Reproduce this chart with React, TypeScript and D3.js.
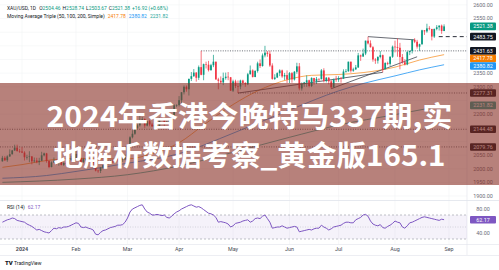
import React from "react";
import * as d3 from "d3";

const W = 499;
const H = 270;

// Trading sessions shown on the daily chart
const tradingMonths: string[] = ["2023-12", "2024-01", "2024-02", "2024-03", "2024-04", "2024-05", "2024-06", "2024-07", "2024-08"];
const tradingDays: number[][] = [
  [19, 20, 21, 22, 26, 27, 28, 29],
  [2, 3, 4, 5, 8, 9, 10, 11, 12, 15, 16, 17, 18, 19, 22, 23, 24, 25, 26, 29, 30, 31],
  [1, 2, 5, 6, 7, 8, 9, 12, 13, 14, 15, 16, 19, 20, 21, 22, 23, 26, 27, 28, 29],
  [1, 4, 5, 6, 7, 8, 11, 12, 13, 14, 15, 18, 19, 20, 21, 22, 25, 26, 27, 28, 29],
  [1, 2, 3, 4, 5, 8, 9, 10, 11, 12, 15, 16, 17, 18, 19, 22, 23, 24, 25, 26, 29, 30],
  [1, 2, 3, 6, 7, 8, 9, 10, 13, 14, 15, 16, 17, 20, 21, 22, 23, 24, 27, 28, 29, 30, 31],
  [3, 4, 5, 6, 7, 10, 11, 12, 13, 14, 17, 18, 19, 20, 21, 24, 25, 26, 27, 28],
  [1, 2, 3, 4, 5, 8, 9, 10, 11, 12, 15, 16, 17, 18, 19, 22, 23, 24, 25, 26, 29, 30, 31],
  [1, 2, 5, 6, 7, 8, 9, 12, 13, 14, 15, 16, 19, 20, 21, 22, 23, 26, 27, 28, 29],
];
// Upcoming sessions on the time scale (no bars yet)
const futureDates: string[] = ["2024-08-30", "2024-09-02"];

// XAU/USD daily candles: open, high, low, close
const candles: [number, number, number, number][] = [
  [2027, 2047, 2026, 2040], [2040, 2046, 2028, 2031], [2031, 2049, 2025, 2045], [2045, 2071, 2043, 2053],
  [2053, 2069, 2052, 2067], [2067, 2088, 2065, 2077], [2077, 2088, 2062, 2065], [2065, 2073, 2058, 2063],
  [2063, 2079, 2057, 2059], [2059, 2064, 2030, 2042], [2042, 2051, 2033, 2043], [2043, 2064, 2024, 2045],
  [2045, 2046, 2016, 2027], [2027, 2041, 2022, 2030], [2030, 2040, 2020, 2024], [2024, 2040, 2013, 2029],
  [2029, 2062, 2028, 2049], [2049, 2059, 2045, 2056], [2056, 2058, 2022, 2028], [2028, 2031, 2002, 2006],
  [2006, 2027, 2005, 2023], [2023, 2041, 2021, 2029], [2029, 2034, 2015, 2022], [2022, 2033, 2011, 2029],
  [2029, 2037, 2012, 2014], [2014, 2024, 2010, 2021], [2021, 2025, 2011, 2018], [2018, 2036, 2016, 2033],
  [2033, 2047, 2029, 2037], [2037, 2055, 2030, 2039],
  [2039, 2065, 2035, 2054], [2054, 2066, 2034, 2039], [2039, 2041, 2014, 2025], [2025, 2040, 2021, 2035],
  [2035, 2039, 2029, 2035.5], [2035, 2042, 2024, 2034], [2034, 2038, 2020, 2024], [2024, 2027, 2011, 2020],
  [2020, 2031, 1990, 1993], [1993, 1997, 1985, 1992], [1992, 2006, 1984, 2004], [2004, 2015, 1998, 2013],
  [2013, 2022, 2011, 2018], [2018, 2032, 2015, 2024], [2024, 2031, 2020, 2026], [2026, 2034, 2020, 2024],
  [2024, 2041, 2023, 2036], [2036, 2040, 2026, 2031], [2031, 2040, 2026, 2033], [2033, 2043, 2025, 2034],
  [2034, 2052, 2031, 2044],
  [2044, 2088, 2039, 2083], [2083, 2119, 2077, 2115], [2115, 2141, 2111, 2128], [2128, 2152, 2124, 2148],
  [2148, 2165, 2146, 2159], [2159, 2195, 2154, 2179], [2179, 2189, 2176, 2182], [2182, 2184, 2150, 2158],
  [2158, 2175, 2155, 2174], [2174, 2179, 2155, 2162], [2162, 2168, 2153, 2155], [2155, 2165, 2146, 2160],
  [2160, 2163, 2146, 2157], [2157, 2187, 2149, 2186], [2186, 2222, 2180, 2181], [2181, 2183, 2155, 2165],
  [2165, 2176, 2164, 2172], [2172, 2182, 2168, 2178], [2178, 2195, 2175, 2194], [2194, 2236, 2191, 2232],
  [2232, 2236, 2225, 2233],
  [2233, 2266, 2228, 2251], [2251, 2280, 2240, 2280], [2280, 2305, 2272, 2300], [2300, 2305, 2282, 2291],
  [2291, 2330, 2268, 2329], [2329, 2354, 2321, 2339], [2339, 2365, 2336, 2352], [2352, 2354, 2319, 2333],
  [2333, 2378, 2325, 2372], [2372, 2431.63, 2342, 2344], [2344, 2385, 2324, 2383], [2383, 2392, 2367, 2381],
  [2381, 2395, 2356, 2361], [2361, 2384, 2359, 2379], [2379, 2417, 2372, 2392], [2392, 2392, 2326, 2327],
  [2327, 2333, 2291, 2322], [2322, 2338, 2311, 2316], [2316, 2352, 2306, 2332], [2332, 2352, 2326, 2337],
  [2337, 2354, 2324, 2335], [2335, 2336, 2285, 2286],
  [2286, 2326, 2281, 2320], [2320, 2326, 2295, 2303], [2303, 2323, 2277.31, 2301], [2301, 2326, 2291, 2323],
  [2323, 2326, 2306, 2314], [2314, 2317, 2300, 2309], [2309, 2351, 2306, 2346], [2346, 2378, 2345, 2360],
  [2360, 2364, 2334, 2336], [2336, 2361, 2335, 2358], [2358, 2392, 2352, 2386], [2386, 2400, 2369, 2376],
  [2376, 2422, 2374, 2415], [2415, 2450, 2408, 2425], [2425, 2431, 2410, 2421], [2421, 2432, 2373, 2378],
  [2378, 2386, 2326, 2329], [2329, 2346, 2325, 2334], [2334, 2353, 2332, 2350], [2350, 2364, 2339, 2360],
  [2360, 2363, 2333, 2338], [2338, 2351, 2325, 2343], [2343, 2360, 2314, 2327],
  [2327, 2354, 2314, 2350], [2350, 2354, 2315, 2327], [2327, 2358, 2323, 2355], [2355, 2388, 2348, 2375],
  [2375, 2387, 2287, 2294], [2294, 2316, 2286, 2310], [2310, 2318, 2300, 2316], [2316, 2342, 2300, 2324],
  [2324, 2326, 2298, 2303], [2303, 2335, 2299, 2332], [2332, 2333, 2308, 2319], [2319, 2336, 2310, 2329],
  [2329, 2331, 2320, 2328], [2328, 2365, 2327, 2360], [2360, 2368, 2316, 2322], [2322, 2336, 2316, 2333],
  [2333, 2336, 2309, 2320], [2320, 2325, 2293, 2298], [2298, 2330, 2298, 2327], [2327, 2340, 2318, 2326],
  [2326, 2339, 2318, 2331], [2331, 2336, 2315, 2330], [2330, 2364, 2329, 2356], [2356, 2365, 2352, 2357],
  [2357, 2392, 2355, 2392], [2392, 2392, 2352, 2359], [2359, 2370, 2355, 2364], [2364, 2380, 2362, 2371],
  [2371, 2424, 2369, 2415], [2415, 2418, 2395, 2411], [2411, 2440, 2409, 2422], [2422, 2469, 2416, 2469],
  [2469, 2483.75, 2455, 2459], [2459, 2470, 2444, 2445], [2445, 2449, 2392, 2400], [2400, 2405, 2384, 2396],
  [2396, 2412, 2385, 2409], [2409, 2431, 2404, 2416], [2416, 2418, 2353, 2364], [2364, 2390, 2364, 2387],
  [2387, 2392, 2379, 2384], [2384, 2412, 2377, 2410], [2410, 2451, 2406, 2447],
  [2447, 2469, 2426, 2446], [2446, 2477, 2410, 2443], [2443, 2461, 2364, 2409], [2409, 2420, 2385, 2390],
  [2390, 2401, 2378, 2382], [2382, 2432, 2379, 2427], [2427, 2433, 2416, 2431], [2431, 2474, 2422, 2472],
  [2472, 2478, 2460, 2465], [2465, 2472, 2440, 2447], [2447, 2458, 2431, 2456], [2456, 2509, 2454, 2507],
  [2507, 2507, 2490, 2503], [2503, 2531, 2498, 2514], [2514, 2522, 2507, 2512], [2512, 2512, 2470, 2484],
  [2484, 2513, 2479, 2512], [2512, 2526, 2507, 2518], [2518, 2525, 2506, 2524], [2524, 2528, 2494, 2504.46],
  [2504.46, 2528.74, 2503.67, 2521.38],
];

// RSI (14) per session
const rsiValues: number[] = [
  58, 60, 62, 63, 65, 64, 61, 60, 59, 58,
  55, 53, 51, 48, 45, 46, 44, 42, 41, 40,
  44, 48, 47, 49, 48, 50, 50, 51, 53, 55,
  57, 56, 50, 49, 50, 48, 47, 45, 38, 37,
  41, 44, 45, 47, 49, 50, 51, 53, 53, 54,
  58, 65, 75, 80, 82, 84, 86, 87, 80, 75,
  73, 70, 70, 71, 70, 69, 70, 66, 65, 68,
  72, 75, 77, 80, 82, 84, 86, 87, 85, 83,
  84, 82, 79, 76, 73, 72, 70, 66, 58, 59,
  58, 57, 55, 50, 52, 56, 57, 58, 60, 61,
  62, 58, 60, 64, 65, 64, 68, 70, 64, 58,
  48, 49, 50, 50, 52, 50, 48, 49, 50, 51,
  50, 42, 43, 44, 45, 46, 45, 47, 48, 48,
  53, 50, 48, 45, 47, 50, 51, 52, 53, 56,
  58, 58, 57, 57, 62, 64, 66, 70, 71, 68,
  60, 55, 53, 52, 54, 49, 48, 51, 53, 56,
  60, 58, 57, 50, 48, 52, 57, 58, 60, 62,
  64, 66, 67, 66, 65, 64, 63, 62, 61, 63, 62.17,
];

// Simple moving averages (50, 100, 200)
const ma50: [string, number][] = [
  ["2023-12-19", 2005], ["2024-01-02", 2015], ["2024-01-16", 2030], ["2024-02-01", 2038],
  ["2024-02-15", 2036], ["2024-03-01", 2036], ["2024-03-15", 2055], ["2024-04-01", 2095],
  ["2024-04-15", 2160], ["2024-05-01", 2235], ["2024-05-15", 2285], ["2024-06-03", 2328],
  ["2024-06-14", 2342], ["2024-07-01", 2345], ["2024-07-15", 2352], ["2024-08-01", 2372],
  ["2024-08-15", 2398], ["2024-08-29", 2417.78],
];
const ma100: [string, number][] = [
  ["2023-12-19", 1965], ["2024-01-16", 1975], ["2024-02-01", 1990], ["2024-03-01", 2020],
  ["2024-04-01", 2055], ["2024-05-01", 2130], ["2024-06-03", 2215], ["2024-07-01", 2285],
  ["2024-07-15", 2312], ["2024-08-01", 2340], ["2024-08-15", 2362], ["2024-08-29", 2380.82],
];
const ma200: [string, number][] = [
  ["2023-12-19", 1950], ["2024-02-01", 1962], ["2024-03-01", 1978], ["2024-04-01", 2010],
  ["2024-05-01", 2060], ["2024-06-03", 2115], ["2024-07-01", 2160], ["2024-08-01", 2198],
  ["2024-08-29", 2231.82],
];

// Drawn trend lines: [start date, price] -> [end date, price]
const trendLines: [[string, number], [string, number]][] = [
  [["2024-07-17", 2483.75], ["2024-08-13", 2472]],
  [["2024-06-26", 2293], ["2024-08-14", 2410]],
  [["2024-05-03", 2277], ["2024-07-25", 2353]],
];

// Horizontal price levels and where they begin
const levelValues: number[] = [2431.63, 2277.31, 2144.48, 2079.76];
const levelStarts: (string | null)[] = ["2024-04-12", "2024-05-03", null, null];
const dashedLevel = 2483.75;

// Month labels on the time scale
const monthTickDates: string[] = ["2024-01-02", "2024-02-01", "2024-03-01", "2024-04-01", "2024-05-01", "2024-06-03", "2024-07-01", "2024-08-01", "2024-09-02"];
const monthTickLabels: string[] = ["2024", "Feb", "Mar", "Apr", "May", "Jun", "Jul", "Aug", "Sep"];

const rsiAxisTicks: number[] = [80, 40];

const bannerLines: string[] = ["2024年香港今晚特马337期,实", "地解析数据考察_黄金版165.1"];

const UP = "#089981";
const DOWN = "#f23645";
const FONT = "Roboto, 'Noto Sans', sans-serif";

const dates: string[] = tradingMonths.flatMap((m, k) =>
  tradingDays[k].map((d) => `${m}-${String(d).padStart(2, "0")}`)
);
const allDates = dates.concat(futureDates);

export default function App() {
  const bar = (d: string) => allDates.indexOf(d);
  const x = d3.scaleLinear().domain([0, 182]).range([2.4, 449]);
  const y = d3.scaleLinear().domain([1900, 2600]).range([196, 4.9]);
  const yR = d3.scaleLinear().domain([30, 70]).range([239, 215]);

  const plotRight = 467;
  const priceTicks = d3.range(1900, 2601, 50);

  const maLine = d3
    .line<[string, number]>()
    .x((p) => x(bar(p[0])))
    .y((p) => y(p[1]))
    .curve(d3.curveMonotoneX);

  const rsiLine = d3
    .line<number>()
    .x((_, i) => x(i))
    .y((v) => yR(v));

  const last = candles[candles.length - 1];
  const prevClose = candles[candles.length - 2][3];
  const chg = last[3] - prevClose;
  const pct = (chg / prevClose) * 100;

  // Price tags on the right scale, stacked so they never overlap
  const tagValues = [last[3], dashedLevel, levelValues[0], ma50[ma50.length - 1][1], ma100[ma100.length - 1][1], levelValues[1], ma200[ma200.length - 1][1], levelValues[2], levelValues[3]];
  const tagColors = [UP, "#131722", "#131722", "#f57c00", "#2196f3", "#131722", "#26a69a", "#131722", "#131722"];
  const tags = tagValues
    .map((v, i) => ({ v, c: tagColors[i], y: y(v) }))
    .sort((a, b) => a.y - b.y);
  for (let i = 1; i < tags.length; i++) {
    if (tags[i].y < tags[i - 1].y + 7.6) tags[i].y = tags[i - 1].y + 7.6;
  }
  // scale labels hidden where a tag sits over them
  const visibleTicks = priceTicks.filter((t) => tags.every((g) => Math.abs(g.y - y(t)) > 6));

  const bw = 1.7;
  const lastRsi = rsiValues[rsiValues.length - 1];
  const rsiTicksShown = rsiAxisTicks.filter((t) => Math.abs(yR(t) - yR(lastRsi)) > 6);

  return (
    <svg
      width={W}
      height={H}
      style={{ position: "absolute", left: 0, top: 0, background: "#fff" }}
      fontFamily={FONT}
    >
      <rect x={0} y={0} width={W} height={H} fill="#fff" />
      <defs>
        <clipPath id="pricePane">
          <rect x={0} y={0} width={plotRight} height={200} />
        </clipPath>
        <clipPath id="rsiPane">
          <rect x={0} y={201} width={plotRight} height={43} />
        </clipPath>
      </defs>

      {/* grid */}
      {priceTicks.map((t) => (
        <line key={`g${t}`} x1={0} x2={plotRight} y1={y(t)} y2={y(t)} stroke="#f2f3f5" strokeWidth={0.6} />
      ))}
      {monthTickDates.map((d) => (
        <line key={`v${d}`} x1={x(bar(d))} x2={x(bar(d))} y1={0} y2={244} stroke="#f2f3f5" strokeWidth={0.6} />
      ))}
      <line x1={plotRight} x2={plotRight} y1={0} y2={255} stroke="#e0e3eb" strokeWidth={0.6} />
      <line x1={0} x2={W} y1={200.5} y2={200.5} stroke="#e0e3eb" strokeWidth={0.8} />
      <line x1={0} x2={W} y1={244.5} y2={244.5} stroke="#e0e3eb" strokeWidth={0.6} />
      <line x1={0} x2={W} y1={255.5} y2={255.5} stroke="#e0e3eb" strokeWidth={0.6} />

      <g clipPath="url(#pricePane)">
        {/* moving averages */}
        <path d={maLine(ma200) || ""} fill="none" stroke="#26a69a" strokeWidth={0.8} />
        <path d={maLine(ma100) || ""} fill="none" stroke="#2196f3" strokeWidth={0.8} />
        <path d={maLine(ma50) || ""} fill="none" stroke="#f57c00" strokeWidth={0.8} opacity={0.8} />

        {/* horizontal levels */}
        {levelValues.map((v, i) => (
          <line
            key={`lv${v}`}
            x1={levelStarts[i] ? x(bar(levelStarts[i] as string)) : 0}
            x2={plotRight}
            y1={y(v)}
            y2={y(v)}
            stroke="#2a2e39"
            strokeWidth={0.7}
            strokeDasharray="1 1.4"
          />
        ))}
        <line
          x1={x(bar("2024-08-26")) + 2}
          x2={plotRight}
          y1={y(dashedLevel)}
          y2={y(dashedLevel)}
          stroke="#2a2e39"
          strokeWidth={1}
          strokeDasharray="4 3"
        />

        {/* trend lines */}
        {trendLines.map((tl, i) => (
          <line
            key={`tl${i}`}
            x1={x(bar(tl[0][0]))}
            y1={y(tl[0][1])}
            x2={x(bar(tl[1][0]))}
            y2={y(tl[1][1])}
            stroke="#434651"
            strokeWidth={0.8}
          />
        ))}

        {/* candles */}
        {candles.map(([o, h, l, c], i) => {
          const col = c >= o ? UP : DOWN;
          const cx = x(i);
          const top = y(Math.max(o, c));
          const bot = y(Math.min(o, c));
          return (
            <g key={`c${i}`}>
              <line x1={cx} x2={cx} y1={y(h)} y2={y(l)} stroke={col} strokeWidth={0.7} />
              <rect x={cx - bw / 2} y={top} width={bw} height={Math.max(0.6, bot - top)} fill={col} />
            </g>
          );
        })}
      </g>

      {/* RSI pane */}
      <rect x={0} y={yR(70)} width={plotRight} height={yR(30) - yR(70)} fill="#7e57c2" opacity={0.08} />
      {[70, 30].map((v) => (
        <line key={`rb${v}`} x1={0} x2={plotRight} y1={yR(v)} y2={yR(v)} stroke="#9598a1" strokeWidth={0.6} strokeDasharray="2 2" />
      ))}
      <line x1={0} x2={plotRight} y1={yR(50)} y2={yR(50)} stroke="#b2b5be" strokeWidth={0.5} strokeDasharray="1 1.5" />
      <g clipPath="url(#rsiPane)">
        <path d={rsiLine(rsiValues) || ""} fill="none" stroke="#7e57c2" strokeWidth={1} />
      </g>

      {/* price scale */}
      {visibleTicks.map((t) => (
        <text key={`pt${t}`} x={483} y={y(t)} dy="0.35em" fontSize={5.4} fill="#6a6d78" textAnchor="middle">
          {t.toFixed(2)}
        </text>
      ))}
      {tags.map((t) => (
        <g key={`tag${t.v}`}>
          <rect x={470} y={t.y - 3.8} width={26} height={7.6} rx={1} fill={t.c} />
          <text x={483} y={t.y} dy="0.35em" fontSize={5.4} fill="#fff" textAnchor="middle">
            {t.v.toFixed(2)}
          </text>
        </g>
      ))}

      {/* RSI scale */}
      {rsiTicksShown.map((t) => (
        <text key={`rt${t}`} x={483} y={yR(t)} dy="0.35em" fontSize={5.4} fill="#6a6d78" textAnchor="middle">
          {t.toFixed(2)}
        </text>
      ))}
      <rect x={470} y={yR(lastRsi) - 3.8} width={26} height={7.6} rx={1} fill="#7e57c2" />
      <text x={483} y={yR(lastRsi)} dy="0.35em" fontSize={5.4} fill="#fff" textAnchor="middle">
        {lastRsi.toFixed(2)}
      </text>

      {/* time scale */}
      {monthTickDates.map((d, i) => (
        <text
          key={`mt${d}`}
          x={x(bar(d))}
          y={249.5}
          dy="0.35em"
          fontSize={5.4}
          fill="#4a4d57"
          fontWeight={i === 0 ? 700 : 400}
          textAnchor="middle"
        >
          {monthTickLabels[i]}
        </text>
      ))}

      {/* legends */}
      <text x={7} y={9.5} fontSize={5} fill="#131722" textLength={161} lengthAdjust="spacingAndGlyphs">
        <tspan>XAU/USD, 1D </tspan>
        <tspan dx={2}>O</tspan><tspan fill={UP}>{last[0].toFixed(2)}</tspan>
        <tspan dx={2}>H</tspan><tspan fill={UP}>{last[1].toFixed(2)}</tspan>
        <tspan dx={2}>L</tspan><tspan fill={UP}>{last[2].toFixed(2)}</tspan>
        <tspan dx={2}>C</tspan><tspan fill={UP}>{last[3].toFixed(2)}</tspan>
        <tspan dx={2} fill={UP}>{`+${chg.toFixed(2)} (+${pct.toFixed(2)}%)`}</tspan>
      </text>
      <text x={7} y={17.5} fontSize={5} fill="#131722" textLength={161} lengthAdjust="spacingAndGlyphs">
        <tspan>Moving Average Triple (50, 100, 200, Simple)</tspan>
        <tspan dx={3} fill="#f57c00">{ma50[ma50.length - 1][1].toFixed(2)}</tspan>
        <tspan dx={3} fill="#2196f3">{ma100[ma100.length - 1][1].toFixed(2)}</tspan>
        <tspan dx={3} fill="#26a69a">{ma200[ma200.length - 1][1].toFixed(2)}</tspan>
      </text>
      <text x={7} y={209} fontSize={5} fill="#131722">
        <tspan>RSI (14)</tspan>
        <tspan dx={3} fill="#7e57c2">{lastRsi.toFixed(2)}</tspan>
      </text>

      {/* brand */}
      <text x={5} y={264.5} fontSize={6} fontWeight={900} fill="#131722">TV</text>
      <text x={14} y={264.5} fontSize={5} fill="#131722">TradingView</text>

      {/* headline banner */}
      <rect x={0} y={83} width={W} height={102} fill="rgb(135,45,35)" opacity={0.6} />
      {bannerLines.map((s, i) => (
        <text
          key={`b${i}`}
          x={W / 2}
          y={i === 0 ? 117 : 156}
          dy="0.36em"
          textAnchor="middle"
          fontFamily="'Noto Sans CJK SC', sans-serif"
          fontWeight={700}
          fontSize={28}
          fill="#fff"
          textLength={i === 0 ? 406 : 392}
          lengthAdjust="spacingAndGlyphs"
        >
          {s}
        </text>
      ))}
    </svg>
  );
}
